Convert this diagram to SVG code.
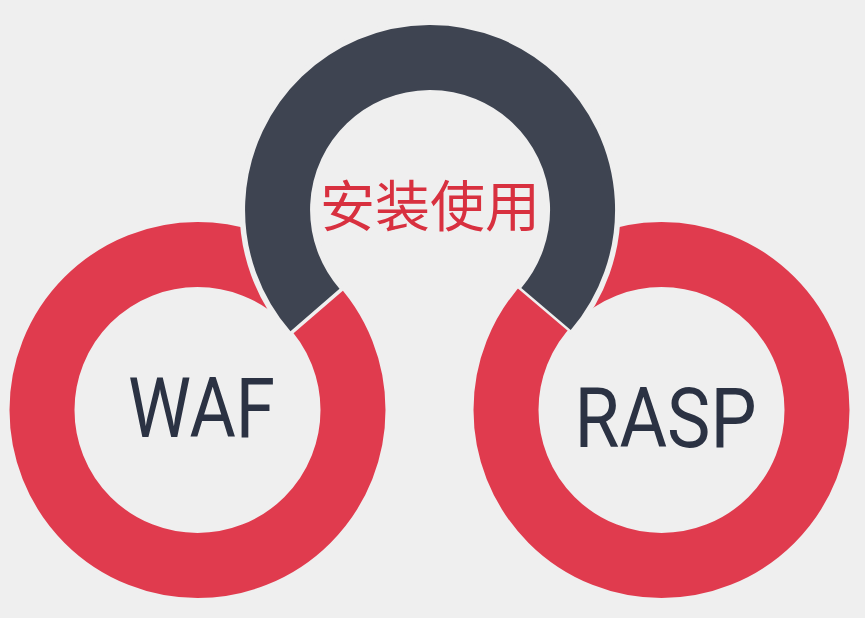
<svg xmlns="http://www.w3.org/2000/svg" width="865" height="618" viewBox="0 0 865 618">
<style>
.red{fill:none;stroke:#e03b4e;stroke-width:65}
.dark{fill:none;stroke:#3e4451;stroke-width:65}
.halo{fill:none;stroke:#efefef;stroke-width:76}
.cut{stroke:#efefef;stroke-width:4.500;fill:none}
.t{font-family:Roboto,"Liberation Sans",sans-serif;font-size:83px;font-weight:400;fill:#2b3243;text-anchor:middle}
</style>
<rect width="865" height="618" fill="#efefef"/>
<g id="waf"><circle class="red" cx="197.500" cy="410" r="155.500"/><text class="t" x="201.500" y="437" textLength="147" lengthAdjust="spacingAndGlyphs">WAF</text></g>
<g id="rasp"><circle class="red" cx="661.500" cy="410" r="155.500"/><text class="t" x="665.500" y="446.500" textLength="182" lengthAdjust="spacingAndGlyphs">RASP</text></g>
<g id="install">
<path class="halo" d="M315 310A152.500 152.500 0 1 1 546 309"/>
<path class="cut" d="M344.300 286.500L286 336.700M516.700 284.500L576 334.700"/>
<path class="dark" d="M315 310A152.500 152.500 0 1 1 546 309"/>
<text x="430" y="226" font-family="'Noto Sans CJK SC',sans-serif" font-size="55" fill="#d8303f" text-anchor="middle">安装使用</text></g>
</svg>
